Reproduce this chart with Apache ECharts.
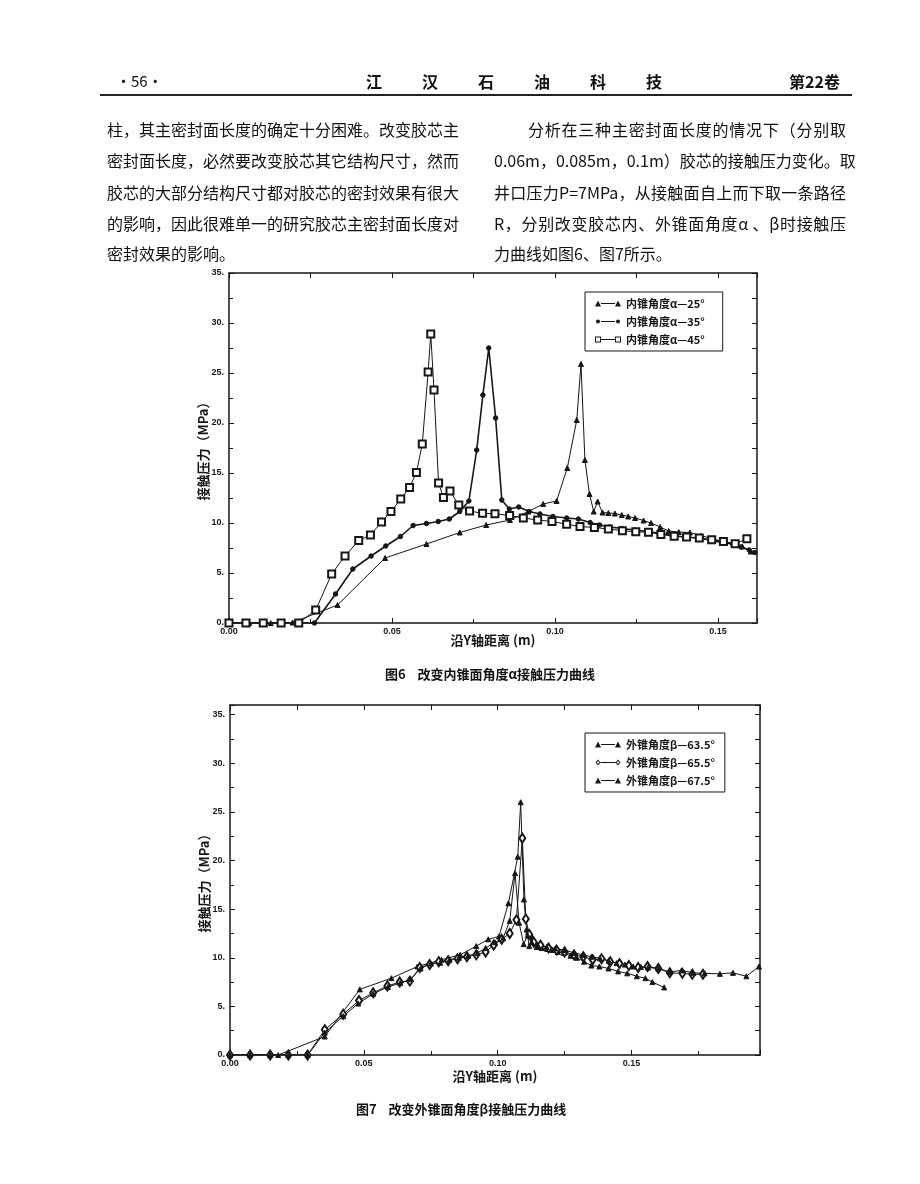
<!DOCTYPE html>
<html><head><meta charset="utf-8">
<script src="https://cdn.jsdelivr.net/npm/echarts@6/dist/echarts.min.js"></script>
<style>
html,body{margin:0;padding:0;background:#fff;}
#page{position:relative;width:920px;height:1184px;overflow:hidden;font-family:"Noto Sans CJK SC","Noto Sans",sans-serif;color:#111;}
#chart{position:absolute;left:0;top:0;width:920px;height:1184px;}
.t{position:absolute;white-space:nowrap;}
.ln{position:absolute;font-size:16px;line-height:20px;height:20px;text-align:justify;text-align-last:justify;white-space:nowrap;overflow:visible;}
.cap{position:absolute;font-size:13px;font-weight:bold;white-space:nowrap;}
</style></head>
<body>
<div id="page">
<div id="chart"></div>
<div class="t" style="left:116px;top:70px;font-size:15px;">·56·</div>
<div class="t" style="left:366px;top:69px;font-size:16px;font-weight:bold;letter-spacing:40px;">江汉石油科技</div>
<div class="t" style="left:789px;top:69px;font-size:16px;font-weight:bold;">第22卷</div>
<div style="position:absolute;left:100px;top:94px;width:752px;height:2px;background:#222;"></div>

<div class="ln" style="left:107px;top:119px;width:352px;">柱，其主密封面长度的确定十分困难。改变胶芯主</div>
<div class="ln" style="left:107px;top:150px;width:352px;">密封面长度，必然要改变胶芯其它结构尺寸，然而</div>
<div class="ln" style="left:107px;top:182px;width:352px;">胶芯的大部分结构尺寸都对胶芯的密封效果有很大</div>
<div class="ln" style="left:107px;top:213px;width:352px;">的影响，因此很难单一的研究胶芯主密封面长度对</div>
<div class="t" style="left:107px;top:243px;font-size:16px;line-height:20px;">密封效果的影响。</div>

<div class="ln" style="left:528px;top:119px;width:318px;">分析在三种主密封面长度的情况下（分别取</div>
<div class="ln" style="left:494px;top:150px;width:352px;">0.06m，0.085m，0.1m）胶芯的接触压力变化。取</div>
<div class="ln" style="left:494px;top:182px;width:352px;">井口压力P=7MPa，从接触面自上而下取一条路径</div>
<div class="ln" style="left:494px;top:213px;width:352px;">R，分别改变胶芯内、外锥面角度α 、β时接触压</div>
<div class="t" style="left:494px;top:243px;font-size:16px;line-height:20px;">力曲线如图6、图7所示。</div>

<div class="cap" style="left:385px;top:664px;">图6&nbsp;&nbsp;&nbsp;&nbsp;改变内锥面角度α接触压力曲线</div>
<div class="cap" style="left:356px;top:1099px;">图7&nbsp;&nbsp;&nbsp;&nbsp;改变外锥面角度β接触压力曲线</div>
</div>
<script>
// ---------- Figure 6 data ----------
const fig6Names = ['内锥角度α—25°', '内锥角度α—35°', '内锥角度α—45°'];
const a25X = [0, 0.0062, 0.0128, 0.0195, 0.0333, 0.0479, 0.0606, 0.0708, 0.0789, 0.0862, 0.0918, 0.0964, 0.1005, 0.1038, 0.1067, 0.1080, 0.1092, 0.1106, 0.1119, 0.1131, 0.1146, 0.1164, 0.1184, 0.1205, 0.1225, 0.1246, 0.1272, 0.1295, 0.1323, 0.1349, 0.1380, 0.1414, 0.1449, 0.1483, 0.1519, 0.1550, 0.1575, 0.1601];
const a25Y = [0, 0, 0, 0.05, 1.8, 6.5, 7.9, 9.05, 9.8, 10.3, 11.15, 11.9, 12.2, 15.5, 20.3, 25.9, 16.3, 12.9, 11.15, 12.15, 11.05, 11.0, 10.95, 10.8, 10.65, 10.5, 10.25, 10.0, 9.6, 9.2, 9.1, 9.05, 8.75, 8.4, 8.15, 7.9, 7.65, 7.15];
const a35X = [0, 0.0052, 0.0103, 0.0159, 0.0216, 0.0262, 0.0327, 0.0380, 0.0436, 0.0481, 0.0526, 0.0565, 0.0606, 0.0642, 0.0676, 0.0708, 0.0736, 0.0760, 0.0779, 0.0797, 0.0818, 0.0837, 0.0860, 0.0889, 0.0921, 0.0954, 0.0994, 0.1036, 0.1072, 0.1108, 0.1137, 0.1168, 0.1206, 0.1245, 0.1285, 0.1325, 0.1359, 0.1398, 0.1438, 0.1477, 0.1511, 0.1545, 0.1571, 0.1596, 0.1613];
const a35Y = [0, 0, 0, 0, 0, 0, 2.9, 5.4, 6.7, 7.7, 8.65, 9.75, 9.95, 10.15, 10.4, 11.15, 12.2, 17.3, 22.8, 27.5, 20.5, 12.3, 11.4, 11.6, 11.15, 10.9, 10.65, 10.5, 10.4, 10.05, 9.8, 9.6, 9.45, 9.3, 9.15, 8.95, 8.75, 8.6, 8.5, 8.3, 8.05, 7.9, 7.6, 7.3, 7.05];
const a45X = [0, 0.0052, 0.0105, 0.0160, 0.0214, 0.0266, 0.0315, 0.0356, 0.0398, 0.0434, 0.0468, 0.0497, 0.0527, 0.0554, 0.0575, 0.0593, 0.0611, 0.0619, 0.0629, 0.0643, 0.0658, 0.0678, 0.0705, 0.0738, 0.0778, 0.0816, 0.0861, 0.0903, 0.0947, 0.0991, 0.1036, 0.1077, 0.1121, 0.1164, 0.1207, 0.1248, 0.1287, 0.1325, 0.1366, 0.1404, 0.1443, 0.1481, 0.1517, 0.1553, 0.1589];
const a45Y = [0, 0, 0, 0, 0, 1.3, 4.9, 6.7, 8.25, 8.8, 10.1, 11.15, 12.4, 13.55, 15.05, 17.9, 25.1, 28.9, 23.3, 14.0, 12.55, 13.2, 11.8, 11.2, 10.97, 10.92, 10.75, 10.5, 10.3, 10.15, 9.88, 9.65, 9.55, 9.4, 9.23, 9.12, 9.08, 8.85, 8.68, 8.6, 8.5, 8.33, 8.15, 7.93, 8.42];

// ---------- Figure 7 data ----------
const fig7Names = ['外锥角度β—63.5°', '外锥角度β—65.5°', '外锥角度β—67.5°'];
const b635X = [0, 0.0075, 0.0150, 0.0180, 0.0354, 0.0485, 0.0603, 0.0700, 0.0790, 0.0860, 0.0920, 0.0965, 0.1005, 0.1040, 0.1075, 0.1086, 0.1098, 0.1108, 0.1118, 0.1130, 0.1146, 0.1165, 0.1185, 0.1205, 0.1225, 0.1247, 0.1272, 0.1296, 0.1323, 0.1350, 0.1380, 0.1414, 0.1450, 0.1484, 0.1520, 0.1552, 0.1578, 0.1622];
const b635Y = [0, 0, 0, 0, 1.9, 6.75, 7.9, 9.1, 9.8, 10.3, 11.2, 11.9, 12.2, 15.6, 20.4, 26.0, 16.0, 12.9, 11.2, 12.1, 11.1, 11.0, 10.9, 10.8, 10.6, 10.5, 10.2, 10.0, 9.6, 9.2, 9.1, 8.9, 8.6, 8.4, 8.1, 7.9, 7.5, 6.95];
const b655X = [0, 0.0075, 0.0150, 0.0218, 0.0290, 0.0354, 0.0423, 0.0482, 0.0535, 0.0588, 0.0634, 0.0672, 0.0709, 0.0746, 0.0780, 0.0815, 0.0850, 0.0885, 0.0920, 0.0955, 0.0985, 0.1015, 0.1045, 0.1070, 0.1092, 0.1105, 0.1118, 0.1135, 0.1160, 0.1190, 0.1220, 0.1250, 0.1285, 0.1320, 0.1355, 0.1388, 0.1420, 0.1455, 0.1490, 0.1525, 0.1560, 0.1600, 0.1643, 0.1690, 0.1727, 0.1767];
const b655Y = [0, 0, 0, 0, 0, 2.6, 4.2, 5.6, 6.4, 7.1, 7.5, 7.6, 9.0, 9.3, 9.6, 9.7, 9.9, 10.1, 10.3, 10.6, 11.3, 11.9, 12.5, 13.9, 22.3, 14.0, 12.4, 11.6, 11.3, 11.0, 10.8, 10.6, 10.3, 10.1, 9.8, 9.9, 9.6, 9.4, 9.2, 9.0, 9.1, 8.9, 8.45, 8.4, 8.3, 8.3];
const b675X = [0, 0.0075, 0.0150, 0.0218, 0.0290, 0.0354, 0.0423, 0.0479, 0.0535, 0.0590, 0.0636, 0.0675, 0.0712, 0.0750, 0.0785, 0.0820, 0.0855, 0.0890, 0.0925, 0.0955, 0.0990, 0.1020, 0.1045, 0.1065, 0.1080, 0.1097, 0.1112, 0.1127, 0.1150, 0.1183, 0.1215, 0.1251, 0.1285, 0.1319, 0.1350, 0.1382, 0.1415, 0.1444, 0.1475, 0.1506, 0.1535, 0.1562, 0.1600, 0.1643, 0.1687, 0.1730, 0.1773, 0.1830, 0.1879, 0.1929, 0.1976];
const b675Y = [0, 0, 0, 0, 0, 2.3, 4.0, 5.3, 6.3, 7.0, 7.4, 7.8, 8.9, 9.4, 9.5, 9.8, 10.0, 10.2, 10.5, 11.0, 11.6, 12.0, 13.8, 18.7, 13.6, 11.4, 12.3, 11.6, 11.3, 11.1, 10.95, 10.8, 10.5, 10.3, 10.1, 9.95, 9.7, 9.45, 9.3, 9.1, 9.05, 9.0, 8.9, 8.55, 8.7, 8.45, 8.4, 8.35, 8.45, 8.1, 9.1];

// ---------- axes ----------
const fig6XMax = 0.162, fig6YMax = 35;
const fig7XMax = 0.198, fig7YMax = 36;
const xTitle = '沿Y轴距离 (m)';
const yTitle = '接触压力（MPa）';

const zip = (xs, ys) => xs.map((x, i) => [x, ys[i]]);
const INK = '#161616';
const lblStyle = {color: INK, fontSize: 9, fontWeight: 'bold', fontFamily: 'Liberation Sans, Arial, sans-serif'};
const isMult = (v, step) => Math.abs(v / step - Math.round(v / step)) < 1e-6;

// legend icons: a short line with the marker at both ends (26 x 6 box)
const LINE_MID = 'M6,2.6 L20,2.6 L20,3.4 L6,3.4 Z ';
const ICON = {
  tri: 'path://M0,6 L3,0 L6,6 Z ' + LINE_MID + 'M20,6 L23,0 L26,6 Z',
  dot: 'path://M1,3 A2,2 0 1,1 5,3 A2,2 0 1,1 1,3 Z ' + LINE_MID + 'M21,3 A2,2 0 1,1 25,3 A2,2 0 1,1 21,3 Z M0,0 L0.01,0 L0.01,0.01 Z M26,6 L25.99,6 L25.99,5.99 Z',
  sq: 'path://M0,0 L6,0 L6,6 L0,6 Z M1,1 L1,5 L5,5 L5,1 Z ' + LINE_MID + 'M20,0 L26,0 L26,6 L20,6 Z M21,1 L21,5 L25,5 L25,1 Z',
  dia: 'path://M3,0 L5.5,3 L3,6 L0.5,3 Z M3,1.5 L1.7,3 L3,4.5 L4.3,3 Z M5.5,2.6 L20.5,2.6 L20.5,3.4 L5.5,3.4 Z M23,0 L25.5,3 L23,6 L20.5,3 Z M23,1.5 L21.7,3 L23,4.5 L24.3,3 Z'
};
const fig6Icons = [ICON.tri, ICON.dot, ICON.sq];
const fig7Icons = [ICON.tri, ICON.dia, ICON.tri];

function xAxes(grid, max, gap) {
  return [
    {type: 'value', gridIndex: grid, position: 'bottom', min: 0, max: max, interval: 0.05,
     name: xTitle, nameLocation: 'middle', nameGap: gap, nameMoveOverlap: false,
     nameTextStyle: {color: INK, fontSize: 13, fontWeight: 'bold', fontFamily: 'Noto Sans CJK SC'},
     axisLine: {onZero: false, lineStyle: {color: INK, width: 1.5}},
     axisTick: {inside: true, length: 5, lineStyle: {color: INK}},
     minorTick: {show: true, splitNumber: 2, length: 4, lineStyle: {color: INK}},
     axisLabel: {margin: 4, formatter: v => isMult(v, 0.05) ? v.toFixed(2) : '', ...lblStyle},
     splitLine: {show: false}},
    {type: 'value', gridIndex: grid, position: 'top', min: 0, max: max, interval: 0.025,
     axisLine: {onZero: false, lineStyle: {color: INK, width: 1.5}},
     axisTick: {inside: true, length: 5, lineStyle: {color: INK}},
     axisLabel: {show: false}, splitLine: {show: false}}
  ];
}
function yAxes(grid, max) {
  return [
    {type: 'value', gridIndex: grid, position: 'left', min: 0, max: max, interval: 5,
     name: yTitle, nameLocation: 'middle', nameGap: 19, nameRotate: 90, nameMoveOverlap: false,
     nameTextStyle: {color: INK, fontSize: 13, fontWeight: 'bold', fontFamily: 'Noto Sans CJK SC'},
     axisLine: {onZero: false, lineStyle: {color: INK, width: 1.5}},
     axisTick: {inside: true, length: 5, lineStyle: {color: INK}},
     minorTick: {show: true, splitNumber: 2, length: 4, lineStyle: {color: INK}},
     axisLabel: {margin: 5, formatter: v => isMult(v, 5) ? v + '.' : '', ...lblStyle},
     splitLine: {show: false}},
    {type: 'value', gridIndex: grid, position: 'right', min: 0, max: max, interval: 2.5,
     axisLine: {onZero: false, lineStyle: {color: INK, width: 1.5}},
     axisTick: {inside: true, length: 5, lineStyle: {color: INK}},
     axisLabel: {show: false}, splitLine: {show: false}}
  ];
}
function line(name, xi, yi, data, symbol, size, width) {
  return {type: 'line', name: name, xAxisIndex: xi, yAxisIndex: yi, data: data,
    symbol: symbol, symbolSize: size, showAllSymbol: true,
    lineStyle: {color: INK, width: width}, itemStyle: {color: INK, borderColor: INK, borderWidth: 1},
    emphasis: {disabled: true}, z: 3};
}
function legend(names, icons, top, padRight) {
  return {data: names.map((n, i) => ({name: n, icon: icons[i]})),
    orient: 'vertical', left: 585, top: top, itemWidth: 26, itemHeight: 6, itemGap: 7,
    padding: [6, padRight, 6, 10], borderColor: INK, borderWidth: 1, backgroundColor: '#fff',
    itemStyle: {color: INK, borderWidth: 0},
    textStyle: {color: INK, fontSize: 11, fontWeight: 'bold', fontFamily: 'Noto Sans CJK SC'}};
}

const chart = echarts.init(document.getElementById('chart'), null, {renderer: 'canvas'});
chart.setOption({
  animation: false,
  backgroundColor: '#fff',
  grid: [
    {left: 229, top: 273, width: 528, height: 350},
    {left: 230, top: 705, width: 530, height: 350}
  ],
  xAxis: [...xAxes(0, fig6XMax, 11), ...xAxes(1, fig7XMax, 15)],
  yAxis: [...yAxes(0, fig6YMax), ...yAxes(1, fig7YMax)],
  legend: [legend(fig6Names, fig6Icons, 292, 18), legend(fig7Names, fig7Icons, 733, 10)],
  series: [
    line(fig6Names[0], 0, 0, zip(a25X, a25Y), 'triangle', 5, 1),
    line(fig6Names[1], 0, 0, zip(a35X, a35Y), 'circle', 4.5, 1.6),
    line(fig6Names[2], 0, 0, zip(a45X, a45Y), 'emptyRect', 7, 1),
    line(fig7Names[0], 2, 2, zip(b635X, b635Y), 'triangle', 5, 1),
    line(fig7Names[1], 2, 2, zip(b655X, b655Y), 'emptyDiamond', [6, 9], 1),
    line(fig7Names[2], 2, 2, zip(b675X, b675Y), 'triangle', 5, 1)
  ]
});
</script>
</body></html>
